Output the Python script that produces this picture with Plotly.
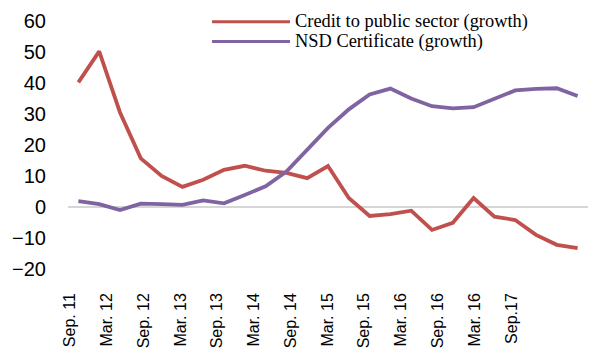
import plotly.graph_objects as go

# Quarterly observations, Sep 2011 - Sep 2017
quarters = [
    "Sep 11", "Dec 11", "Mar 12", "Jun 12", "Sep 12", "Dec 12", "Mar 13",
    "Jun 13", "Sep 13", "Dec 13", "Mar 14", "Jun 14", "Sep 14", "Dec 14",
    "Mar 15", "Jun 15", "Sep 15", "Dec 15", "Mar 16", "Jun 16", "Sep 16",
    "Dec 16", "Mar 17", "Jun 17", "Sep 17",
]
credit_public = [
    40.2, 50.2, 30.5, 15.7, 10.0, 6.5, 8.8, 12.0, 13.3, 11.7, 11.0, 9.3,
    13.2, 2.9, -2.9, -2.3, -1.2, -7.4, -5.1, 2.9, -3.1, -4.2, -9.0, -12.2,
    -13.3,
]
nsd_certificate = [
    1.9, 0.9, -1.0, 1.1, 0.9, 0.7, 2.1, 1.2, 3.9, 6.7, 11.4, 18.5, 25.5,
    31.5, 36.3, 38.2, 35.0, 32.5, 31.8, 32.2, 35.0, 37.6, 38.1, 38.3, 35.8,
]

# Axis labels printed under the chart
tick_labels = [
    "Sep. 11", "Mar. 12", "Sep. 12", "Mar. 13", "Sep. 13", "Mar. 14",
    "Sep. 14", "Mar. 15", "Sep. 15", "Mar. 16", "Sep. 16", "Mar. 16",
    "Sep.17",
]

series_names = ["Credit to public sector (growth)", "NSD Certificate (growth)"]
colors = ["#C0504D", "#8064A2"]

fig = go.Figure()
for name, values, color in zip(series_names, [credit_public, nsd_certificate], colors):
    fig.add_trace(go.Scatter(
        x=quarters, y=values, name=name, mode="lines",
        line=dict(color=color, width=3.8),
        showlegend=False, hoverinfo="skip",
    ))

# Label-only axis carrying the date labels
fig.add_trace(go.Scatter(
    x=list(range(len(tick_labels))), y=[None] * len(tick_labels),
    xaxis="x2", mode="lines", showlegend=False, hoverinfo="skip",
))

# Hand-drawn legend with long line keys
legend_x0, legend_x1, legend_text_x = 0.277, 0.427, 0.433
legend_rows = [0.997, 0.917]
for name, color, ypos in zip(series_names, colors, legend_rows):
    fig.add_shape(type="line", xref="paper", yref="paper",
                  x0=legend_x0, x1=legend_x1, y0=ypos, y1=ypos,
                  line=dict(color=color, width=3))
    fig.add_annotation(text=name, xref="paper", yref="paper",
                       x=legend_text_x, y=ypos, xanchor="left", yanchor="middle",
                       showarrow=False,
                       font=dict(family="Liberation Serif, Times New Roman, serif",
                                 size=18.4, color="#000000"))

fig.update_layout(
    width=590, height=364,
    margin=dict(l=68, r=2, t=21, b=95),
    plot_bgcolor="white", paper_bgcolor="white",
    xaxis=dict(
        type="category", range=[-0.5, len(quarters) - 0.5],
        showticklabels=False, showgrid=False, zeroline=False, showline=False,
        ticks="",
    ),
    xaxis2=dict(
        overlaying="x", anchor="y", side="bottom",
        range=[-0.054, 14.08],
        tickmode="array", tickvals=list(range(len(tick_labels))),
        ticktext=tick_labels, tickangle=-90, ticks="",
        showgrid=False, zeroline=False, showline=False,
        ticklabelstandoff=20,
        tickfont=dict(family="Liberation Sans, Arial, sans-serif", size=16,
                      color="#000000"),
    ),
    yaxis=dict(
        range=[-20, 60], tickmode="array",
        tickvals=[-20, -10, 0, 10, 20, 30, 40, 50, 60],
        showgrid=False, zeroline=True, zerolinecolor="#D6D6D6",
        zerolinewidth=1.5, showline=False, ticks="",
        ticklabelstandoff=21,
        tickfont=dict(family="Liberation Sans, Arial, sans-serif", size=20,
                      color="#000000"),
    ),
)

fig.write_html("out.html")
